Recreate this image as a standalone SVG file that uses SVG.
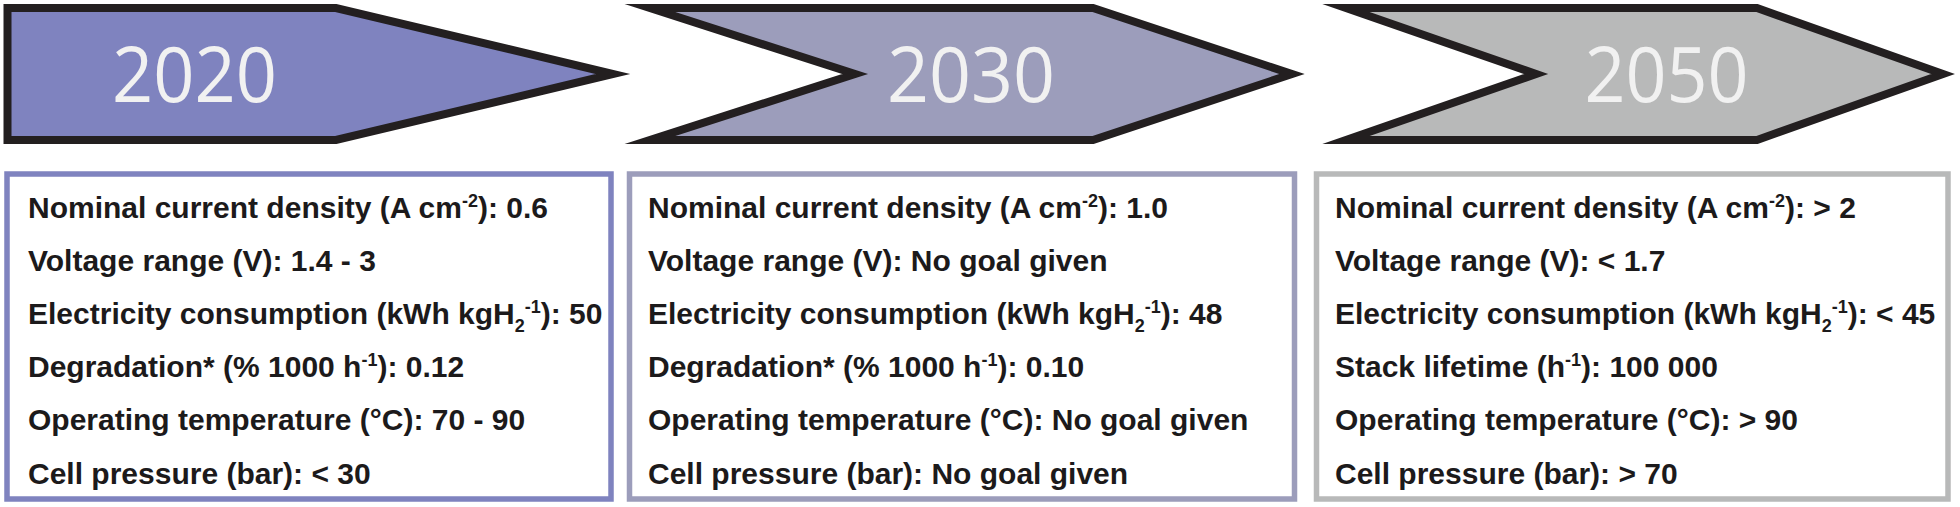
<svg xmlns="http://www.w3.org/2000/svg" width="1960" height="507" viewBox="0 0 1960 507">
<style>
.arrow{stroke:#231f20;stroke-width:8;stroke-linejoin:miter;stroke-miterlimit:12}
.year{font-family:"Open Sans","Noto Sans",sans-serif;font-size:77px;fill:#f1f1f1;text-anchor:middle}
.box{fill:#ffffff;stroke-width:5.5}
.t{font-family:"Liberation Sans",Arial,sans-serif;font-weight:bold;font-size:30px;fill:#1c1a1b}
.s{font-size:18px}
</style>
<rect width="1960" height="507" fill="#ffffff"/>
<g id="arrow-2020">
<path class="arrow" d="M7.5,8 L336,8 L613,74 L336,140 L7.5,140 Z" fill="#7f83bf"/>
<text class="year" x="194.5" y="102" textLength="165" lengthAdjust="spacingAndGlyphs">2020</text>
</g>
<g id="arrow-2030">
<path class="arrow" d="M650,8 L1093,8 L1292,74 L1093,140 L650,140 L855,74 Z" fill="#9c9dbb"/>
<text class="year" x="971" y="102" textLength="168" lengthAdjust="spacingAndGlyphs">2030</text>
</g>
<g id="arrow-2050">
<path class="arrow" d="M1346,8 L1757,8 L1943,74 L1757,140 L1346,140 L1536,74 Z" fill="#b8b9b9"/>
<text class="year" x="1666.5" y="102" textLength="164" lengthAdjust="spacingAndGlyphs">2050</text>
</g>
<g id="box-2020">
<rect class="box" x="7" y="174" width="604" height="325" stroke="#7f83bf"/>
<text class="t" x="28" y="218">Nominal current density (A cm<tspan class="s" dy="-11">-2</tspan><tspan dy="11">): 0.6</tspan></text>
<text class="t" x="28" y="271">Voltage range (V): 1.4 - 3</text>
<text class="t" x="28" y="324">Electricity consumption (kWh kgH<tspan class="s" dy="8">2</tspan><tspan class="s" dy="-19">-1</tspan><tspan dy="11">): 50</tspan></text>
<text class="t" x="28" y="377">Degradation* (% 1000 h<tspan class="s" dy="-11">-1</tspan><tspan dy="11">): 0.12</tspan></text>
<text class="t" x="28" y="430">Operating temperature (°C): 70 - 90</text>
<text class="t" x="28" y="484">Cell pressure (bar): &lt; 30</text>
</g>
<g id="box-2030">
<rect class="box" x="629.5" y="174" width="665" height="325" stroke="#9c9dbb"/>
<text class="t" x="648" y="218">Nominal current density (A cm<tspan class="s" dy="-11">-2</tspan><tspan dy="11">): 1.0</tspan></text>
<text class="t" x="648" y="271">Voltage range (V): No goal given</text>
<text class="t" x="648" y="324">Electricity consumption (kWh kgH<tspan class="s" dy="8">2</tspan><tspan class="s" dy="-19">-1</tspan><tspan dy="11">): 48</tspan></text>
<text class="t" x="648" y="377">Degradation* (% 1000 h<tspan class="s" dy="-11">-1</tspan><tspan dy="11">): 0.10</tspan></text>
<text class="t" x="648" y="430">Operating temperature (°C): No goal given</text>
<text class="t" x="648" y="484">Cell pressure (bar): No goal given</text>
</g>
<g id="box-2050">
<rect class="box" x="1316.5" y="174" width="631.5" height="325" stroke="#b8b9b9"/>
<text class="t" x="1335" y="218">Nominal current density (A cm<tspan class="s" dy="-11">-2</tspan><tspan dy="11">): &gt; 2</tspan></text>
<text class="t" x="1335" y="271">Voltage range (V): &lt; 1.7</text>
<text class="t" x="1335" y="324">Electricity consumption (kWh kgH<tspan class="s" dy="8">2</tspan><tspan class="s" dy="-19">-1</tspan><tspan dy="11">): &lt; 45</tspan></text>
<text class="t" x="1335" y="377">Stack lifetime (h<tspan class="s" dy="-11">-1</tspan><tspan dy="11">): 100 000</tspan></text>
<text class="t" x="1335" y="430">Operating temperature (°C): &gt; 90</text>
<text class="t" x="1335" y="484">Cell pressure (bar): &gt; 70</text>
</g>
</svg>
